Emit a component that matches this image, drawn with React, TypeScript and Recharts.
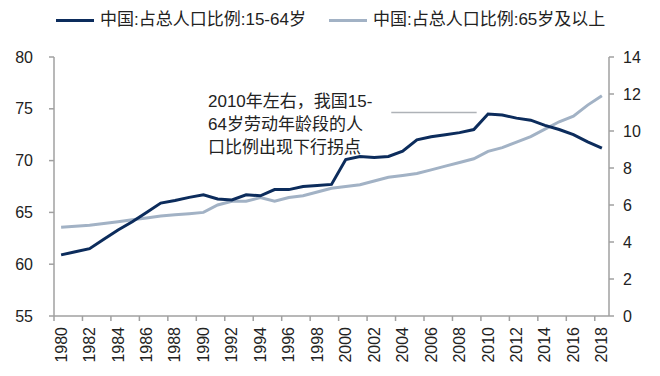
import { LineChart, Line, XAxis, YAxis, ReferenceLine } from "recharts"

const years = [
  1980, 1981, 1982, 1983, 1984, 1985, 1986, 1987, 1988, 1989,
  1990, 1991, 1992, 1993, 1994, 1995, 1996, 1997, 1998, 1999,
  2000, 2001, 2002, 2003, 2004, 2005, 2006, 2007, 2008, 2009,
  2010, 2011, 2012, 2013, 2014, 2015, 2016, 2017, 2018,
]

// 中国:占总人口比例:15-64岁 (左轴, %)
const ratio1564 = [
  60.9, 61.2, 61.5, 62.4, 63.3, 64.1, 65.0, 65.9, 66.15, 66.45,
  66.7, 66.3, 66.2, 66.7, 66.6, 67.2, 67.2, 67.5, 67.6, 67.7,
  70.1, 70.4, 70.3, 70.4, 70.9, 72.0, 72.3, 72.5, 72.7, 73.0,
  74.5, 74.4, 74.1, 73.9, 73.4, 73.0, 72.5, 71.8, 71.2,
]

// 中国:占总人口比例:65岁及以上 (右轴, %)
const ratio65 = [
  4.8, 4.85, 4.9, 5.0, 5.1, 5.2, 5.3, 5.4, 5.47, 5.53,
  5.6, 6.0, 6.2, 6.2, 6.4, 6.2, 6.4, 6.5, 6.7, 6.9,
  7.0, 7.1, 7.3, 7.5, 7.6, 7.7, 7.9, 8.1, 8.3, 8.5,
  8.9, 9.1, 9.4, 9.7, 10.1, 10.5, 10.8, 11.4, 11.9,
]

const seriesNames = ["中国:占总人口比例:15-64岁", "中国:占总人口比例:65岁及以上"]
const xTicks = years.filter((y) => y % 2 === 0)
const leftTicks = [55, 60, 65, 70, 75, 80]
const rightTicks = [0, 2, 4, 6, 8, 10, 12, 14]
const note = ["2010年左右，我国15-", "64岁劳动年龄段的人", "口比例出现下行拐点"]
// 注释线位置 (数据坐标)
const noteLine = { from: 2003.2, to: 2009.2, value: 74.65 }

const data = years.map((year, i) => ({ year, a: ratio1564[i], b: ratio65[i] }))

const W = 660
const H = 376
const LEFT_W = 54
const RIGHT_W = 51
const PLOT_W = W - LEFT_W - RIGHT_W
const HALF = PLOT_W / years.length / 2

const DARK = "#0c2c5c"
const LIGHT = "#a2b2c5"
const AXIS = "#a0a0a0"
const TEXT = "#222"
const FONT = "'Liberation Sans', 'Noto Sans CJK SC', sans-serif"

function XTick(props: any) {
  const { x, y, payload } = props
  const ty = y + 11
  return (
    <g>
      <line x1={x - HALF} x2={x - HALF} y1={y} y2={y + 5} stroke={AXIS} strokeWidth={1.5} />
      <text
        x={x}
        y={ty}
        transform={`rotate(-90, ${x}, ${ty})`}
        textAnchor="end"
        dominantBaseline="central"
        fill={TEXT}
        fontSize={16}
        fontFamily={FONT}
      >
        {payload.value}
      </text>
    </g>
  )
}

export default function App() {
  return (
    <div style={{ position: "absolute", left: 0, top: 0, width: W, height: H, background: "#fff", fontFamily: FONT }}>
      <LineChart width={W} height={H} data={data} margin={{ top: 57, right: 0, bottom: 0, left: 0 }}>
        <XAxis
          dataKey="year"
          type="number"
          domain={[1979.5, 2018.5]}
          ticks={xTicks}
          interval={0}
          height={60}
          tickLine={false}
          tickSize={0}
          tickMargin={0}
          tick={<XTick />}
          stroke={AXIS}
          strokeWidth={1.5}
        />
        <YAxis
          yAxisId="left"
          domain={[55, 80]}
          ticks={leftTicks}
          width={LEFT_W}
          tickSize={5}
          tickMargin={16}
          stroke={AXIS}
          strokeWidth={1.5}
          tick={{ fill: TEXT, fontSize: 16, fontFamily: FONT }}
        />
        <YAxis
          yAxisId="right"
          orientation="right"
          domain={[0, 14]}
          ticks={rightTicks}
          width={RIGHT_W}
          tickSize={5}
          tickMargin={9}
          stroke={AXIS}
          strokeWidth={1.5}
          tick={{ fill: TEXT, fontSize: 16, fontFamily: FONT }}
        />
        <ReferenceLine
          yAxisId="left"
          segment={[
            { x: noteLine.from, y: noteLine.value },
            { x: noteLine.to, y: noteLine.value },
          ]}
          stroke="#aeb2b7"
          strokeWidth={1.5}
        />
        <Line
          yAxisId="right"
          type="linear"
          dataKey="b"
          name={seriesNames[1]}
          stroke={LIGHT}
          strokeWidth={3}
          dot={false}
          isAnimationActive={false}
        />
        <Line
          yAxisId="left"
          type="linear"
          dataKey="a"
          name={seriesNames[0]}
          stroke={DARK}
          strokeWidth={3}
          dot={false}
          isAnimationActive={false}
        />
      </LineChart>

      <div
        style={{
          position: "absolute",
          left: 56,
          top: 10,
          display: "flex",
          alignItems: "center",
          fontSize: 17,
          lineHeight: "20px",
          color: TEXT,
          whiteSpace: "nowrap",
        }}
      >
        {seriesNames.map((name, i) => (
          <div key={name} style={{ display: "flex", alignItems: "center", marginRight: i === 0 ? 23 : 0 }}>
            <span style={{ display: "inline-block", width: 38, height: 3, background: i === 0 ? DARK : LIGHT, marginRight: 6 }} />
            <span>{name}</span>
          </div>
        ))}
      </div>

      <div
        style={{
          position: "absolute",
          left: 208,
          top: 90,
          fontSize: 17,
          lineHeight: "23px",
          color: TEXT,
          whiteSpace: "nowrap",
        }}
      >
        {note.map((t) => (
          <div key={t}>{t}</div>
        ))}
      </div>
    </div>
  )
}
